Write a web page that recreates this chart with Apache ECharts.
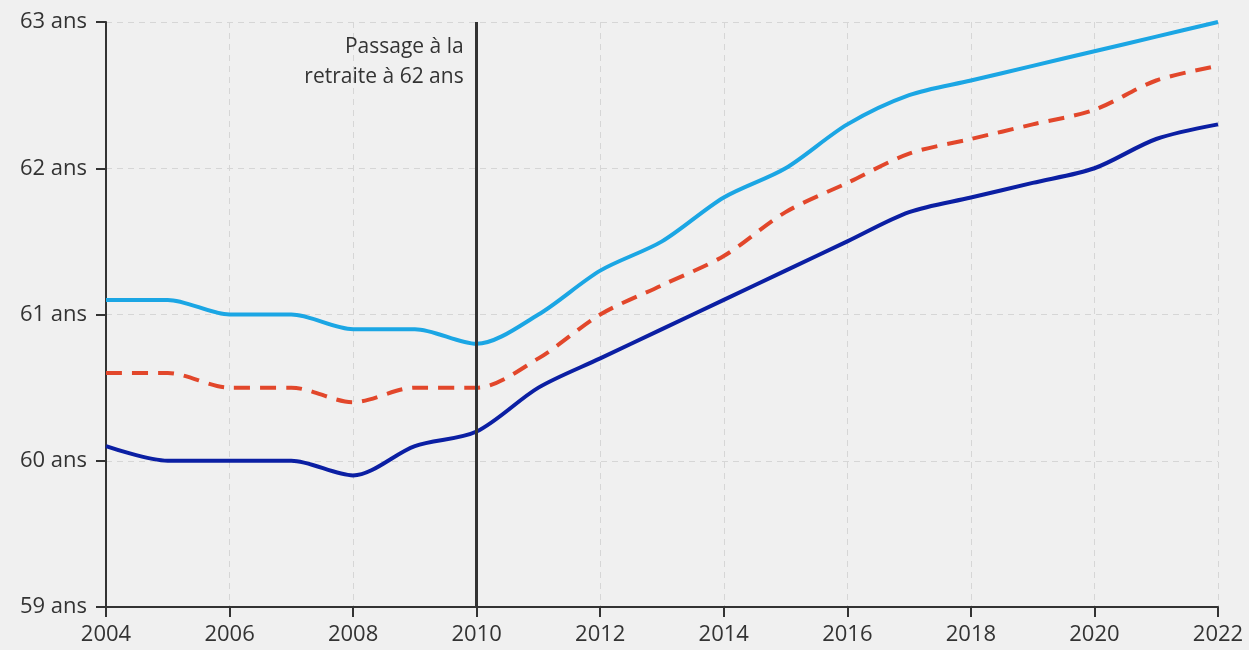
<!DOCTYPE html>
<html>
<head>
    <meta charset="utf-8">
    <title>Age de départ à la retraite</title>
    <script src="https://cdn.jsdelivr.net/npm/echarts@6/dist/echarts.min.js"></script>
    <style>
        html, body { margin: 0; padding: 0; background: #f0f0f0; }
        #main { width: 1249px; height: 650px; }
    </style>
</head>
<body>
<div id="main"></div>
<script>
    // données
    const years = ['2004', '2005', '2006', '2007', '2008', '2009', '2010', '2011', '2012', '2013',
        '2014', '2015', '2016', '2017', '2018', '2019', '2020', '2021', '2022'];
    const lightBlue = [61.1, 61.1, 61.0, 61.0, 60.9, 60.9, 60.8, 61.0, 61.3, 61.5,
        61.8, 62.0, 62.3, 62.5, 62.6, 62.7, 62.8, 62.9, 63.0];
    const dashedRed = [60.6, 60.6, 60.5, 60.5, 60.4, 60.5, 60.5, 60.7, 61.0, 61.2,
        61.4, 61.7, 61.9, 62.1, 62.2, 62.3, 62.4, 62.6, 62.7];
    const darkBlue = [60.1, 60.0, 60.0, 60.0, 59.9, 60.1, 60.2, 60.5, 60.7, 60.9,
        61.1, 61.3, 61.5, 61.7, 61.8, 61.9, 62.0, 62.2, 62.3];
    const reformYear = '2010';
    const reformLabel = 'Passage à la\nretraite à 62 ans';

    const font = '"Open Sans", "Noto Sans", sans-serif';
    const chart = echarts.init(document.getElementById('main'));
    chart.setOption({
        backgroundColor: '#f0f0f0',
        animation: false,
        grid: { left: 106, right: 31, top: 22, bottom: 43 },
        xAxis: {
            type: 'category',
            data: years,
            boundaryGap: false,
            axisLine: { lineStyle: { color: '#333', width: 2 } },
            axisTick: { interval: 1, length: 10, lineStyle: { color: '#333', width: 2 } },
            axisLabel: { interval: 1, color: '#333', fontSize: 22, fontFamily: font, margin: 17 },
            splitLine: { show: true, interval: 1, lineStyle: { color: '#d6d6d6', type: [6, 5], width: 1 } }
        },
        yAxis: {
            type: 'value',
            min: 59,
            max: 63,
            interval: 1,
            axisLine: { show: true, lineStyle: { color: '#333', width: 2 } },
            axisTick: { show: true, length: 10, lineStyle: { color: '#333', width: 2 } },
            axisLabel: { color: '#333', fontSize: 22, fontFamily: font, margin: 19, formatter: '{value} ans' },
            splitLine: { lineStyle: { color: '#d6d6d6', type: [6, 5], width: 1 } }
        },
        series: [
            {
                name: 'light', type: 'line', data: lightBlue, smooth: 0.3, symbol: 'none',
                lineStyle: { color: '#1ba6e4', width: 4 }
            },
            {
                name: 'dashed', type: 'line', data: dashedRed, smooth: 0.3, symbol: 'none',
                lineStyle: { color: '#e2472b', width: 4, type: [16, 10] }
            },
            {
                name: 'dark', type: 'line', data: darkBlue, smooth: 0.3, symbol: 'none',
                lineStyle: { color: '#0b1fa3', width: 4 },
                markLine: {
                    silent: true,
                    symbol: 'none',
                    label: { show: false },
                    lineStyle: { color: '#333', width: 3, type: 'solid' },
                    data: [{ xAxis: reformYear }]
                }
            }
        ]
    });

    const p = chart.convertToPixel({ gridIndex: 0 }, [reformYear, 63]);
    chart.setOption({
        graphic: [{
            type: 'text',
            x: p[0] - 13,
            y: p[1] + 10,
            style: {
                text: reformLabel,
                fill: '#333',
                font: '21px ' + font,
                align: 'right',
                verticalAlign: 'top',
                lineHeight: 30
            }
        }]
    });
</script>
</body>
</html>
